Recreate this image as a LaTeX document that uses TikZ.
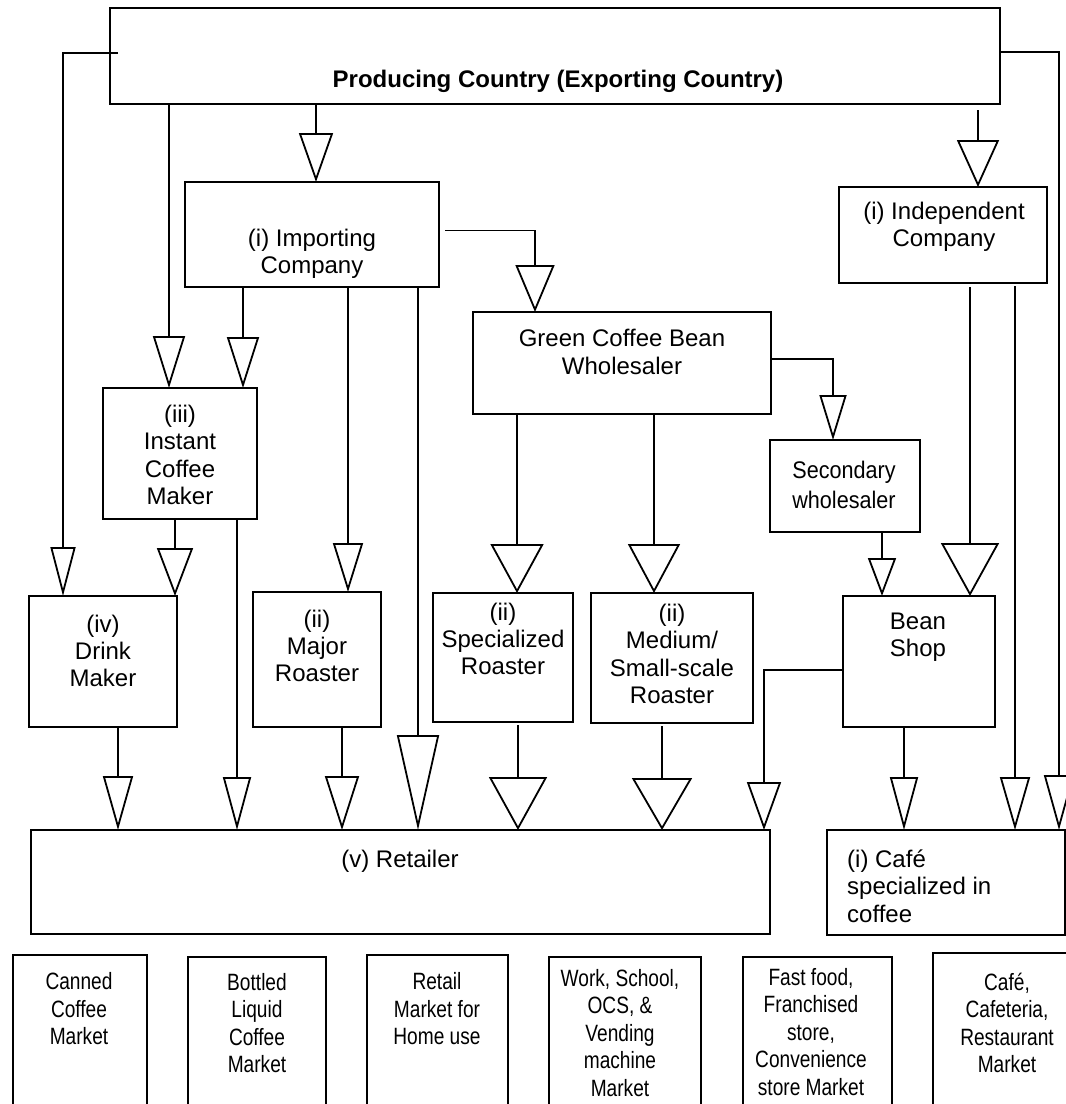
\documentclass[tikz,border=0pt]{standalone}
\usepackage{fontspec}
\setmainfont{Liberation Sans}
\newfontfamily\condfont{Liberation Sans}[FakeStretch=0.81]
\newfontfamily\semicondfont{Liberation Sans}[FakeStretch=0.9]
\usetikzlibrary{arrows.meta,calc}
\newcommand\mybox[5]{\node[box, minimum width={#4-#2}, minimum height={#5-#3}] (#1) at ({(#2+#4)/2},{(#3+#5)/2}) {};}
\begin{document}
\begin{tikzpicture}[x=1pt,y=-1pt,
  box/.style={draw, line width=1.8pt, inner sep=0pt, outer sep=0pt, fill=none},
  txt/.style={align=center, font=\fontsize{24}{27.4}\selectfont, inner sep=0pt},
  mkt/.style={txt, font=\condfont\fontsize{23.6}{27.5}\selectfont},
  conn/.style={line width=1.8pt},
  ar/.style 2 args={conn, -{Triangle[open, width=#1pt, length=#2pt]}}]
\useasboundingbox (0,0) rectangle (1066,1104);
\clip (0,0) rectangle (1066,1104);
\fill[white] (0,0) rectangle (1066,1104);
% boxes
\mybox{prod}{110}{8}{1000}{104}
\mybox{imp}{185}{182}{439}{287}
\mybox{indep}{839}{187}{1047}{283}
\mybox{green}{473}{312}{771}{414}
\mybox{instant}{103}{388}{257}{519}
\mybox{second}{770}{440}{920}{532}
\mybox{drink}{29}{596}{177}{727}
\mybox{major}{253}{592}{381}{727}
\mybox{spec}{433}{593}{573}{722}
\mybox{medium}{591}{593}{753}{723}
\mybox{bean}{843}{596}{995}{727}
\mybox{retail}{31}{830}{770}{934}
\mybox{cafe}{827}{830}{1065}{935}
\mybox{canned}{13}{955}{147}{1115}
\mybox{bottled}{188}{957}{326}{1115}
\mybox{retmkt}{367}{955}{508}{1115}
\mybox{work}{549}{957}{701}{1115}
\mybox{fast}{743}{957}{892}{1115}
\mybox{cafemkt}{933}{953}{1075}{1115}
% texts
\node[txt, font=\fontsize{24}{27.4}\selectfont\bfseries] (prod-t) at (558,81) {Producing Country (Exporting Country)};
\node[txt] (imp-t) at (312,254) {(i) Importing\\Company};
\node[txt] (indep-t) at (944,227) {(i) Independent\\Company};
\node[txt] (green-t) at (622,352) {Green Coffee Bean\\Wholesaler};
\node[txt] (instant-t) at (180,455) {(iii)\\Instant\\Coffee\\Maker};
\node[txt, font=\semicondfont\fontsize{24}{30}\selectfont] (second-t) at (844,485) {Secondary\\wholesaler};
\node[txt] (drink-t) at (103,651) {(iv)\\Drink\\Maker};
\node[txt] (major-t) at (317,646) {(ii)\\Major\\Roaster};
\node[txt] (spec-t) at (503,639) {(ii)\\Specialized\\Roaster};
\node[txt] (medium-t) at (672,654) {(ii)\\Medium/\\Small-scale\\Roaster};
\node[txt] (bean-t) at (918,637) {Bean\\Shop};
\node[txt] (retail-t) at (400,861) {(v) Retailer};
\node[txt, align=left, anchor=west] (cafe-t) at (847,886) {(i) Café\\specialized in\\coffee};
\node[mkt] (canned-t) at (79,1009) {Canned\\Coffee\\Market};
\node[mkt] (bottled-t) at (257,1023) {Bottled\\Liquid\\Coffee\\Market};
\node[mkt] (retmkt-t) at (437,1009) {Retail\\Market for\\Home use};
\node[mkt] (work-t) at (620,1033) {Work, School,\\OCS, \&\\Vending\\machine\\Market};
\node[mkt] (fast-t) at (811,1032) {Fast food,\\Franchised\\store,\\Convenience\\store Market};
\node[mkt] (cafemkt-t) at (1007,1023) {Café,\\Cafeteria,\\Restaurant\\Market};
% connectors
\draw[ar={25}{49}] ([xshift=8pt,yshift=3pt]prod.west) -| (drink.north -| 63,0);
\draw[ar={32}{52}] (prod.south -| 169,0) -- (instant.north -| 169,0);
\draw[ar={34}{49}] (prod.south -| 316,0) -- (imp.north -| 316,0);
\draw[ar={42}{47}] ($(prod.south -| 978,0)+(0,6)$) -- (indep.north -| 978,0);
\draw[ar={30}{55}] ([yshift=4pt]prod.east) -| (cafe.north -| 1059,0);
\draw[ar={32}{51}] (imp.south -| 243,0) -- (instant.north -| 243,0);
\draw[ar={30}{49}] (imp.south -| 348,0) -- (major.north -| 348,0);
\draw[ar={42}{95}] (imp.south -| 418,0) -- (retail.north -| 418,0);
\draw[ar={39}{47}] ($(imp.east)+(6,-4)$) -| (green.north -| 535,0);
\draw[ar={36}{48}] (instant.south -| 175,0) -- (drink.north -| 175,0);
\draw[ar={28}{53}] (instant.south -| 237,0) -- (retail.north -| 237,0);
\draw[ar={30}{54}] (drink.south -| 118,0) -- (retail.north -| 118,0);
\draw[ar={34}{54}] (major.south -| 342,0) -- (retail.north -| 342,0);
\draw[ar={53}{49}] (green.south -| 517,0) -- (spec.north -| 517,0);
\draw[ar={52}{49}] (green.south -| 654,0) -- (medium.north -| 654,0);
\draw[ar={27}{45}] ($(green.east)+(0,-4)$) -| (second.north -| 833,0);
\draw[ar={28}{38}] (second.south -| 882,0) -- (bean.north -| 882,0);
\draw[ar={58}{53}] ($(indep.south -| 970,0)+(0,4)$) -- (bean.north -| 970,0);
\draw[ar={30}{53}] ($(indep.south -| 1015,0)+(0,3)$) -- (cafe.north -| 1015,0);
\draw[ar={58}{53}] ($(spec.south -| 518,0)+(0,3)$) -- (retail.north -| 518,0);
\draw[ar={60}{52}] ($(medium.south -| 662,0)+(0,3)$) -- (retail.north -| 662,0);
\draw[ar={34}{48}] ($(bean.west)+(0,8.5)$) -| (retail.north -| 764,0);
\draw[ar={28}{53}] (bean.south -| 904,0) -- (cafe.north -| 904,0);
\end{tikzpicture}
\end{document}
